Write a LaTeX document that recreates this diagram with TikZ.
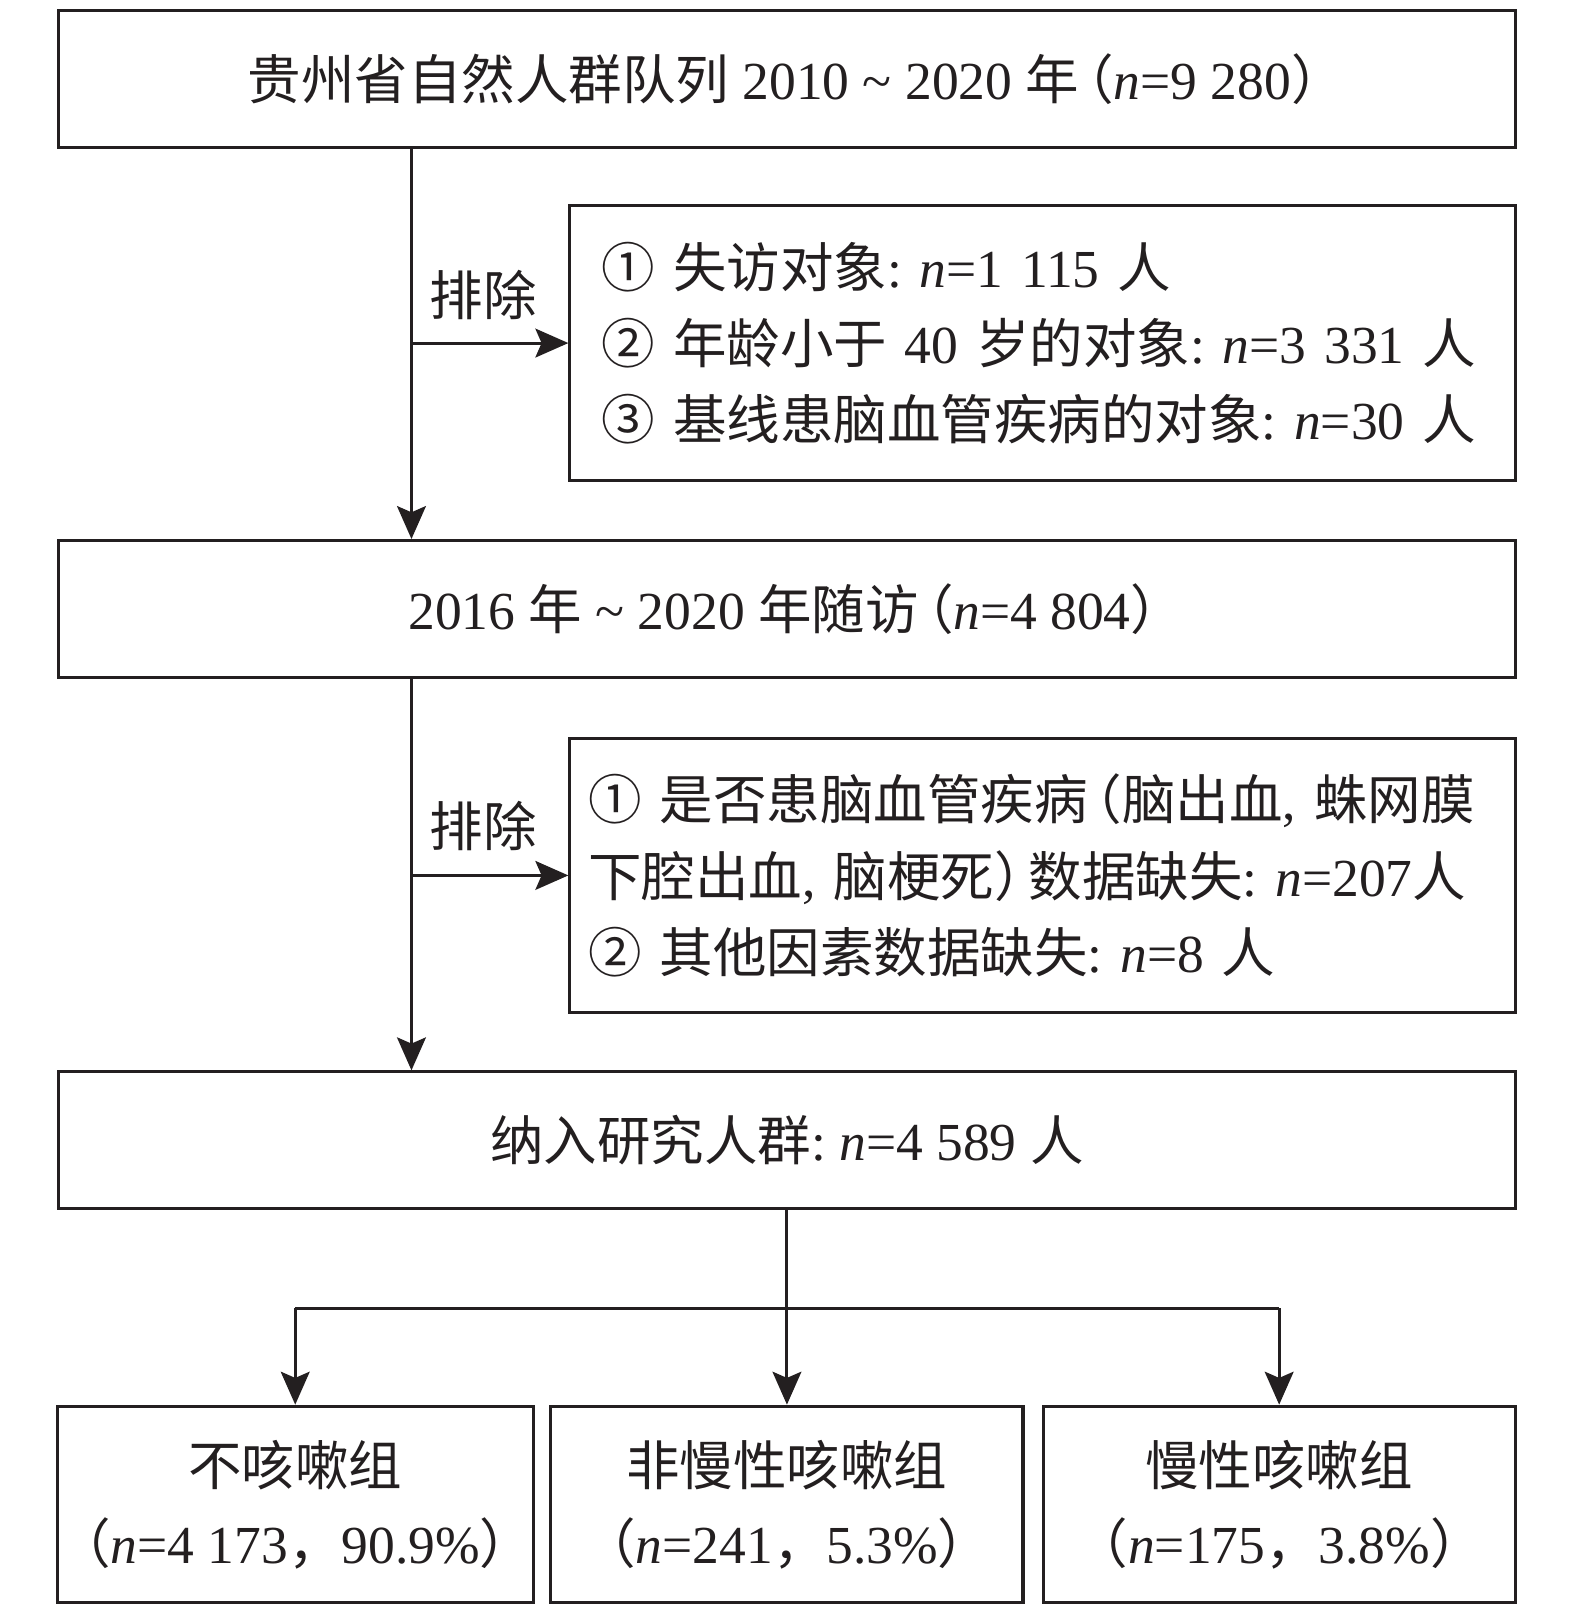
\documentclass[tikz,border=0pt]{standalone}
\usepackage{fontspec}
\setmainfont{Liberation Serif}
\newfontfamily\cjk{Noto Sans CJK SC}
\usetikzlibrary{arrows.meta}
\definecolor{ink}{RGB}{35,31,32}
\frenchspacing
\newcommand\zh[1]{{\cjk #1}}
\newcommand\tld{\symbol{"7E}}
\newcommand\lp{{\cjk\kern-0.35em（}}
\newcommand\rp{{\cjk ）\kern-0.35em}}
\begin{document}
\begin{tikzpicture}[x=1pt,y=-1pt,
  every node/.style={text=ink},
  mainbox/.style={draw=ink, line width=3pt, minimum width=1416pt, minimum height=133pt, inner sep=0pt, font=\fontsize{52}{60}\selectfont},
  exbox/.style={draw=ink, line width=3pt, minimum height=267pt, align=left, font=\fontsize{52}{74}\selectfont, inner ysep=0pt},
  grpbox/.style={draw=ink, line width=3pt, minimum width=459pt, minimum height=191pt, inner sep=0pt, align=center, font=\fontsize{52}{76}\selectfont},
  lbl/.style={font=\fontsize{52}{60}\selectfont, inner sep=0pt},
  conn/.style={draw=ink, line width=3pt},
  arr/.style={conn, -{Stealth[length=32pt,width=28pt,inset=6pt]}}
]
\useasboundingbox (0,0) rectangle (1531,1569);

\node[mainbox] (b1) at (765,76.5) {\zh{贵州省自然人群队列} 2010 \tld\ 2020 \zh{年}\lp\textit{n}=9 280\rp};
\node[exbox, text width=857pt, inner xsep=31pt] (e1) at (1013.5,333.5) {%
\mbox{\zh{①} \zh{失访对象}: \textit{n}=1 115 \zh{人}}\\
\mbox{\zh{②} \zh{年龄小于} 40 \zh{岁的对象}: \textit{n}=3 331 \zh{人}}\\
\mbox{\zh{③} \zh{基线患脑血管疾病的对象}: \textit{n}=30 \zh{人}}};
\node[mainbox] (b2) at (765,592) {2016 \zh{年} \tld\ 2020 \zh{年随访}\lp\textit{n}=4 804\rp};
\node[exbox, text width=883pt, inner xsep=18pt] (e2) at (1013.5,851) {%
\mbox{\zh{①} \zh{是否患脑血管疾病}\lp\zh{脑出血}, \zh{蛛网膜}}\\
\mbox{\zh{下腔出血}, \zh{脑梗死}\rp\zh{数据缺失}: \textit{n}=207\zh{人}}\\
\mbox{\zh{②} \zh{其他因素数据缺失}: \textit{n}=8 \zh{人}}};
\node[mainbox] (b3) at (765,1108.5) {\zh{纳入研究人群}: \textit{n}=4 589 \zh{人}};

\node[grpbox] (g1) at (287,1462.5) {\zh{不咳嗽组}\\\zh{（}\textit{n}=4 173\zh{，}90.9\%\zh{）}};
\node[grpbox] (g2) at (765,1462.5) {\zh{非慢性咳嗽组}\\\zh{（}\textit{n}=241\zh{，}5.3\%\zh{）}};
\node[grpbox] (g3) at (1243.5,1462.5) {\zh{慢性咳嗽组}\\\zh{（}\textit{n}=175\zh{，}3.8\%\zh{）}};

\coordinate (v1) at (400,143);
\coordinate (v2) at (400,659);
\coordinate (split) at (765,1272);

\draw[arr] (b1.south -| v1) -- (b2.north -| v1);
\draw[arr] (v1 |- e1.west) -- (e1.west);
\node[lbl] (x1) at (470,287) {\zh{排除}};

\draw[arr] (b2.south -| v2) -- (b3.north -| v2);
\draw[arr] (v2 |- e2.west) -- (e2.west);
\node[lbl] (x2) at (470,803) {\zh{排除}};

\draw[arr] (b3.south) -- (g2.north);
\draw[conn] (g1.north |- split) -- (g3.north |- split);
\draw[arr] (g1.north |- split) -- (g1.north);
\draw[arr] (g3.north |- split) -- (g3.north);
\end{tikzpicture}
\end{document}
